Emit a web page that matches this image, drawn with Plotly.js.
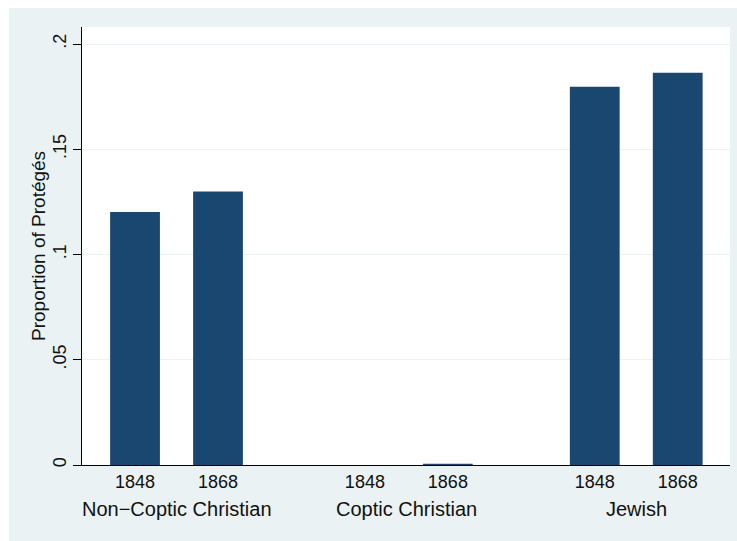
<!DOCTYPE html>
<html>
<head>
<meta charset="utf-8">
<script src="https://cdn.plot.ly/plotly-3.0.1.min.js"></script>
<style>
html,body{margin:0;padding:0;background:#eaf2f3;overflow:hidden;}
#topband{position:absolute;left:0;top:0;width:100%;height:8px;background:#ffffff;}
#leftband{position:absolute;left:0;top:0;width:9px;height:100%;background:#ffffff;}
#chart{position:absolute;left:9px;top:8px;width:728px;height:533px;}
</style>
</head>
<body>
<div id="topband"></div>
<div id="leftband"></div>
<div id="chart"></div>
<script>
// Data
const groups = ["Non\u2212Coptic Christian", "Coptic Christian", "Jewish"];
const years = ["1848", "1868"];
const proportions = [
  [0.1202, 0.1300],   // Non-Coptic Christian
  [0.0000, 0.0006],   // Coptic Christian
  [0.1797, 0.1864]    // Jewish
];
const yTickVals = [0, 0.05, 0.1, 0.15, 0.2];
const yTickText = ["0", ".05", ".1", ".15", ".2"];

// Positions on the numeric category axis
const groupGap = 2.77;
const xs = [], ys = [], tv = [], tt = [];
groups.forEach((g, gi) => {
  years.forEach((yr, yi) => {
    const x = gi * groupGap + yi;
    xs.push(x); ys.push(proportions[gi][yi]);
    tv.push(x); tt.push(yr);
  });
});

const font = "Liberation Sans, Arial, Helvetica, sans-serif";
const trace = {
  type: "bar",
  x: xs, y: ys,
  width: 0.6,
  marker: {color: "#1a476f", line: {width: 0}},
  hoverinfo: "skip"
};

const annotations = groups.map((g, gi) => ({
  text: g, xref: "x", yref: "paper",
  x: gi * groupGap + 0.5, y: 0, yshift: -31,
  xanchor: "center", yanchor: "top", showarrow: false,
  font: {family: font, size: 20, color: "#111111"}
}));
annotations.push({
  text: "Proportion of Protégés", xref: "paper", yref: "paper",
  x: 0, y: 0.5, xshift: -44, xanchor: "center", yanchor: "middle",
  textangle: -90, showarrow: false,
  font: {family: font, size: 19, color: "#111111"}
});

const layout = {
  width: 728, height: 533,
  margin: {l: 73, r: 7, t: 19, b: 76, pad: 0},
  paper_bgcolor: "#eaf2f3",
  plot_bgcolor: "#ffffff",
  showlegend: false,
  font: {family: font, size: 16, color: "#111111"},
  xaxis: {
    range: [-0.639, 2 * groupGap + 1 + 0.63],
    tickmode: "array", tickvals: tv, ticktext: tt,
    ticks: "", showgrid: false, zeroline: false,
    showline: true, linecolor: "#000000", linewidth: 1,
    tickfont: {family: font, size: 18, color: "#111111"},
    fixedrange: true
  },
  yaxis: {
    range: [0, 0.2081],
    tickmode: "array", tickvals: yTickVals, ticktext: yTickText,
    tickangle: -90,
    ticks: "outside", ticklen: 8, tickcolor: "#000000", tickwidth: 1,
    showgrid: true, gridcolor: "#eaf2f3", gridwidth: 1,
    zeroline: false,
    showline: true, linecolor: "#000000", linewidth: 1,
    tickfont: {family: font, size: 18, color: "#111111"},
    fixedrange: true
  },
  annotations: annotations
};

Plotly.newPlot("chart", [trace], layout, {staticPlot: true, displayModeBar: false});
</script>
</body>
</html>
